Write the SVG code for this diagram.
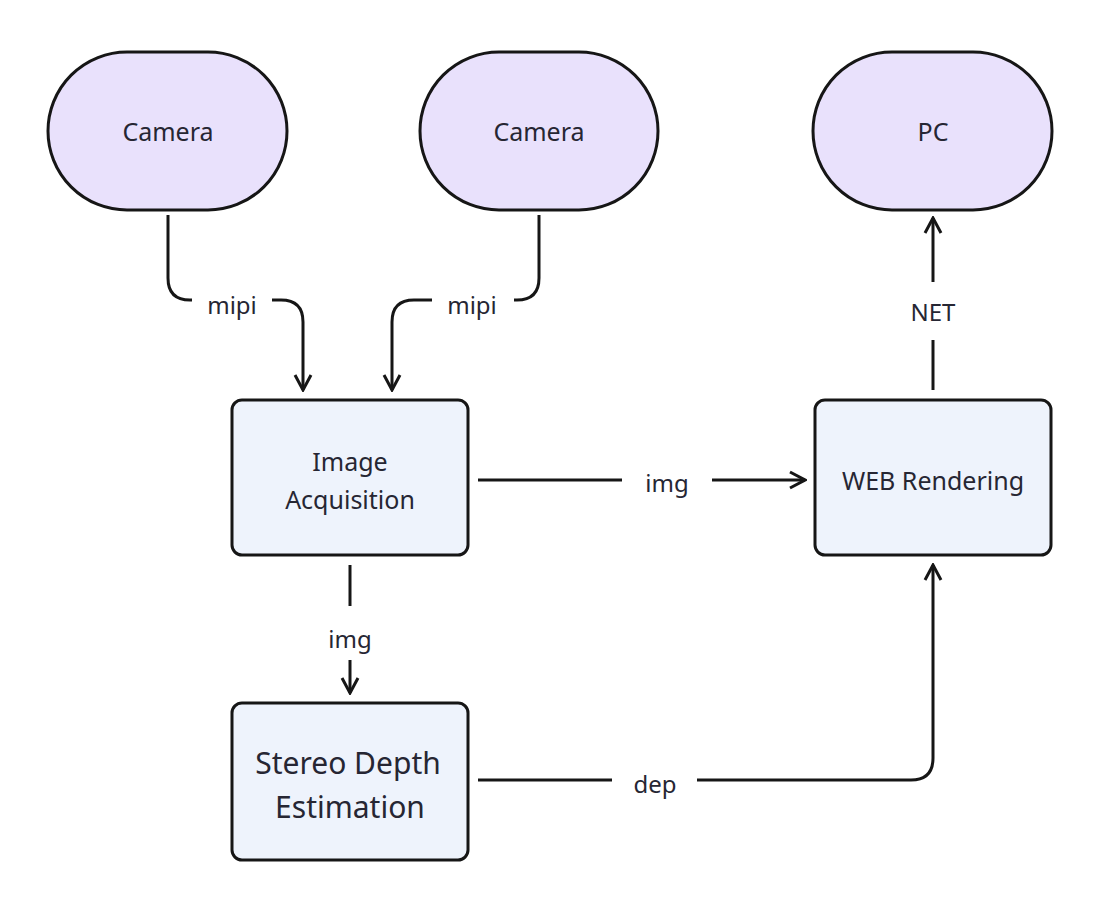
<svg xmlns="http://www.w3.org/2000/svg" width="1102" height="910" viewBox="0 0 1102 910">
<defs>
<style>
.term{fill:#e9e1fc;stroke:#161616;stroke-width:3}
.box{fill:#eef3fc;stroke:#161616;stroke-width:3}
.t{font-family:"Noto Sans","Open Sans",sans-serif;fill:#262633;text-anchor:middle;dominant-baseline:central}
.c{fill:none;stroke:#161616;stroke-width:3}
</style>
<marker id="ah" viewBox="0 0 20 20" refX="18" refY="10" markerWidth="20" markerHeight="20" markerUnits="userSpaceOnUse" orient="auto">
<path d="M3,2 L18,10 L3,18" fill="none" stroke="#161616" stroke-width="3"/>
</marker>
</defs>
<rect width="1102" height="910" fill="#fff"/>
<g id="camera1"><rect class="term" x="48" y="52" width="239" height="158" rx="79"/><text class="t" x="168" y="131" font-size="25">Camera</text></g>
<g id="camera2"><rect class="term" x="420" y="52" width="238" height="158" rx="79"/><text class="t" x="539" y="131" font-size="25">Camera</text></g>
<g id="pc"><rect class="term" x="813" y="52" width="239" height="158" rx="79"/><text class="t" x="933" y="131" font-size="25">PC</text></g>
<g id="acq"><rect class="box" x="232" y="400" width="236" height="155" rx="10"/><text class="t" x="350" y="461" font-size="25">Image</text><text class="t" x="350" y="499" font-size="25">Acquisition</text></g>
<g id="web"><rect class="box" x="815" y="400" width="236" height="155" rx="10"/><text class="t" x="933" y="480" font-size="25">WEB Rendering</text></g>
<g id="stereo"><rect class="box" x="232" y="703" width="236" height="157" rx="10"/><text class="t" x="348" y="762" font-size="30">Stereo Depth</text><text class="t" x="350" y="806" font-size="30">Estimation</text></g>
<g id="connectors">
<path class="c" d="M168,215 V278 Q168,300 190,300 H192"/>
<path class="c" d="M272,300 H281 Q303,300 303,322 V390" marker-end="url(#ah)"/>
<text class="t" x="232" y="304" font-size="24">mipi</text>
<path class="c" d="M539,215 V278 Q539,300 517,300 H514"/>
<path class="c" d="M432,300 H414 Q392,300 392,322 V390" marker-end="url(#ah)"/>
<text class="t" x="472" y="304" font-size="24">mipi</text>
<path class="c" d="M478,480 H622"/>
<path class="c" d="M712,480 H805" marker-end="url(#ah)"/>
<text class="t" x="667" y="482" font-size="24">img</text>
<path class="c" d="M350,565 V606"/>
<path class="c" d="M350,660 V693" marker-end="url(#ah)"/>
<text class="t" x="350" y="638" font-size="24">img</text>
<path class="c" d="M478,780 H612"/>
<path class="c" d="M697,780 H911 Q933,780 933,758 V565" marker-end="url(#ah)"/>
<text class="t" x="655" y="783" font-size="24">dep</text>
<path class="c" d="M933,390 V340"/>
<path class="c" d="M933,282 V218" marker-end="url(#ah)"/>
<text class="t" x="933" y="311" font-size="24">NET</text>
</g>
</svg>
